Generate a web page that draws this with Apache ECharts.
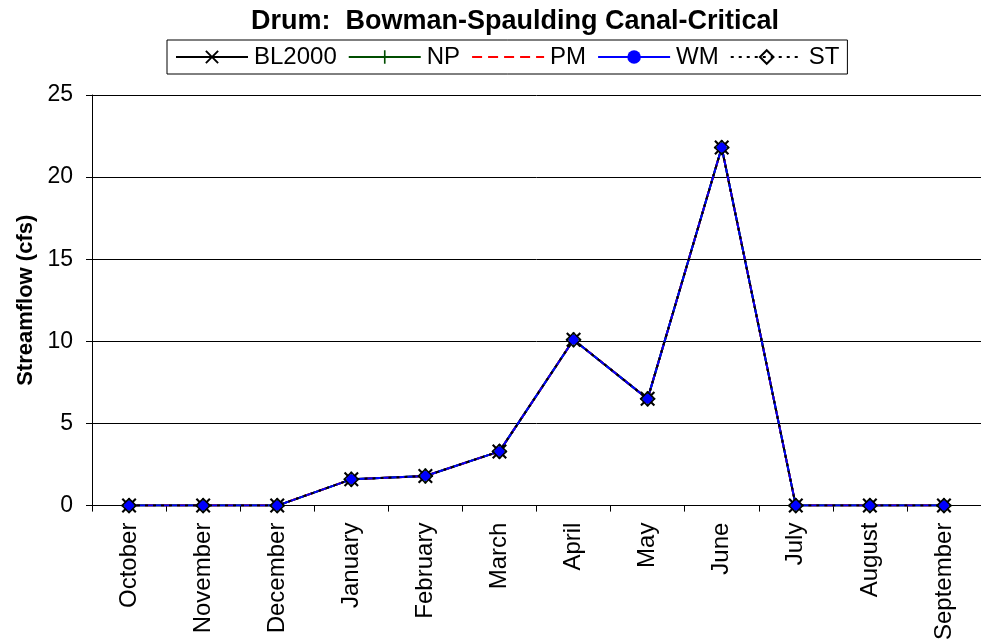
<!DOCTYPE html>
<html><head><meta charset="utf-8">
<script src="https://cdn.jsdelivr.net/npm/echarts@6/dist/echarts.min.js"></script>
<style>html,body{margin:0;padding:0;background:#fff}#c{width:981px;height:643px}</style>
</head><body><div id="c"></div>
<script>
const categories = ['October','November','December','January','February','March','April','May','June','July','August','September'];
const BL2000 = [0,0,0,1.6,1.8,3.3,10.1,6.5,21.8,0,0,0];
const NP     = [0,0,0,1.6,1.8,3.3,10.1,6.5,21.8,0,0,0];
const PM     = [0,0,0,1.6,1.8,3.3,10.1,6.5,21.8,0,0,0];
const WM     = [0,0,0,1.6,1.8,3.3,10.1,6.5,21.8,0,0,0];
const ST     = [0,0,0,1.6,1.8,3.3,10.1,6.5,21.8,0,0,0];
const yTicks = [0,5,10,15,20,25];

const xPath = 'path://M0,1L1,0L5,4L9,0L10,1L6,5L10,9L9,10L5,6L1,10L0,9L4,5Z';
const plusPath = 'path://M4.4,0L5.6,0L5.6,4.4L10,4.4L10,5.6L5.6,5.6L5.6,10L4.4,10L4.4,5.6L0,5.6L0,4.4L4.4,4.4Z';
const FONT = 'Liberation Sans, Arial, sans-serif';

const chart = echarts.init(document.getElementById('c'), null, {renderer:'canvas'});
chart.setOption({
  animation:false,
  title:{text:'Drum:  Bowman-Spaulding Canal-Critical', left:510, top:3, textAlign:'center',
    textStyle:{fontFamily:FONT, fontSize:27, fontWeight:'bold', color:'#000'}},
  legend:{top:40, left:167, padding:[5,8,5,8], borderColor:'#000', borderWidth:1,
    itemWidth:72, itemHeight:17, itemGap:11,
    textStyle:{fontFamily:FONT, fontSize:24, color:'#000', lineHeight:24, padding:[0,0,0,1]},
    data:['BL2000','NP',{name:'PM', itemStyle:{color:'rgba(0,0,0,0)', borderWidth:0}},'WM','ST']},
  grid:{left:92, top:95, width:897, height:415, containLabel:false},
  xAxis:{type:'category', data:categories, boundaryGap:true,
    axisLine:{lineStyle:{color:'#000', width:1}},
    axisTick:{show:true, length:6, lineStyle:{color:'#000'}},
    axisLabel:{rotate:90, fontFamily:FONT, fontSize:24, color:'#000', margin:17, interval:0}},
  yAxis:{type:'value', min:0, max:25, interval:5,
    name:'Streamflow (cfs)', nameLocation:'middle', nameGap:55,
    nameTextStyle:{fontFamily:FONT, fontSize:22, fontWeight:'bold', color:'#000'},
    axisLine:{show:true, lineStyle:{color:'#000'}},
    axisTick:{show:true, length:6, lineStyle:{color:'#000'}},
    axisLabel:{fontFamily:FONT, fontSize:23, color:'#000', margin:19,
      formatter:v=>yTicks.includes(v)?String(v):''},
    splitLine:{lineStyle:{color:'#000', width:1}}},
  series:[
    {name:'BL2000', type:'line', data:BL2000, symbol:xPath, symbolSize:15,
      lineStyle:{color:'#000', width:2}, itemStyle:{color:'#000'}},
    {name:'NP', type:'line', data:NP, symbol:plusPath, symbolSize:15,
      lineStyle:{color:'#004d00', width:2}, itemStyle:{color:'#004d00'}},
    {name:'PM', type:'line', data:PM, symbol:'none',
      lineStyle:{color:'#ff0000', width:2, type:[10,6]}, itemStyle:{color:'#ff0000'}},
    {name:'WM', type:'line', data:WM, symbol:'circle', symbolSize:10,
      lineStyle:{color:'#0000ff', width:2}, itemStyle:{color:'#0000ff'}},
    {name:'ST', type:'line', data:ST, symbol:'diamond', symbolSize:14,
      lineStyle:{color:'#000', width:2, type:[3,5]}, itemStyle:{color:'rgba(0,0,0,0)', borderColor:'#000', borderWidth:1.5}}
  ]
});
</script></body></html>
